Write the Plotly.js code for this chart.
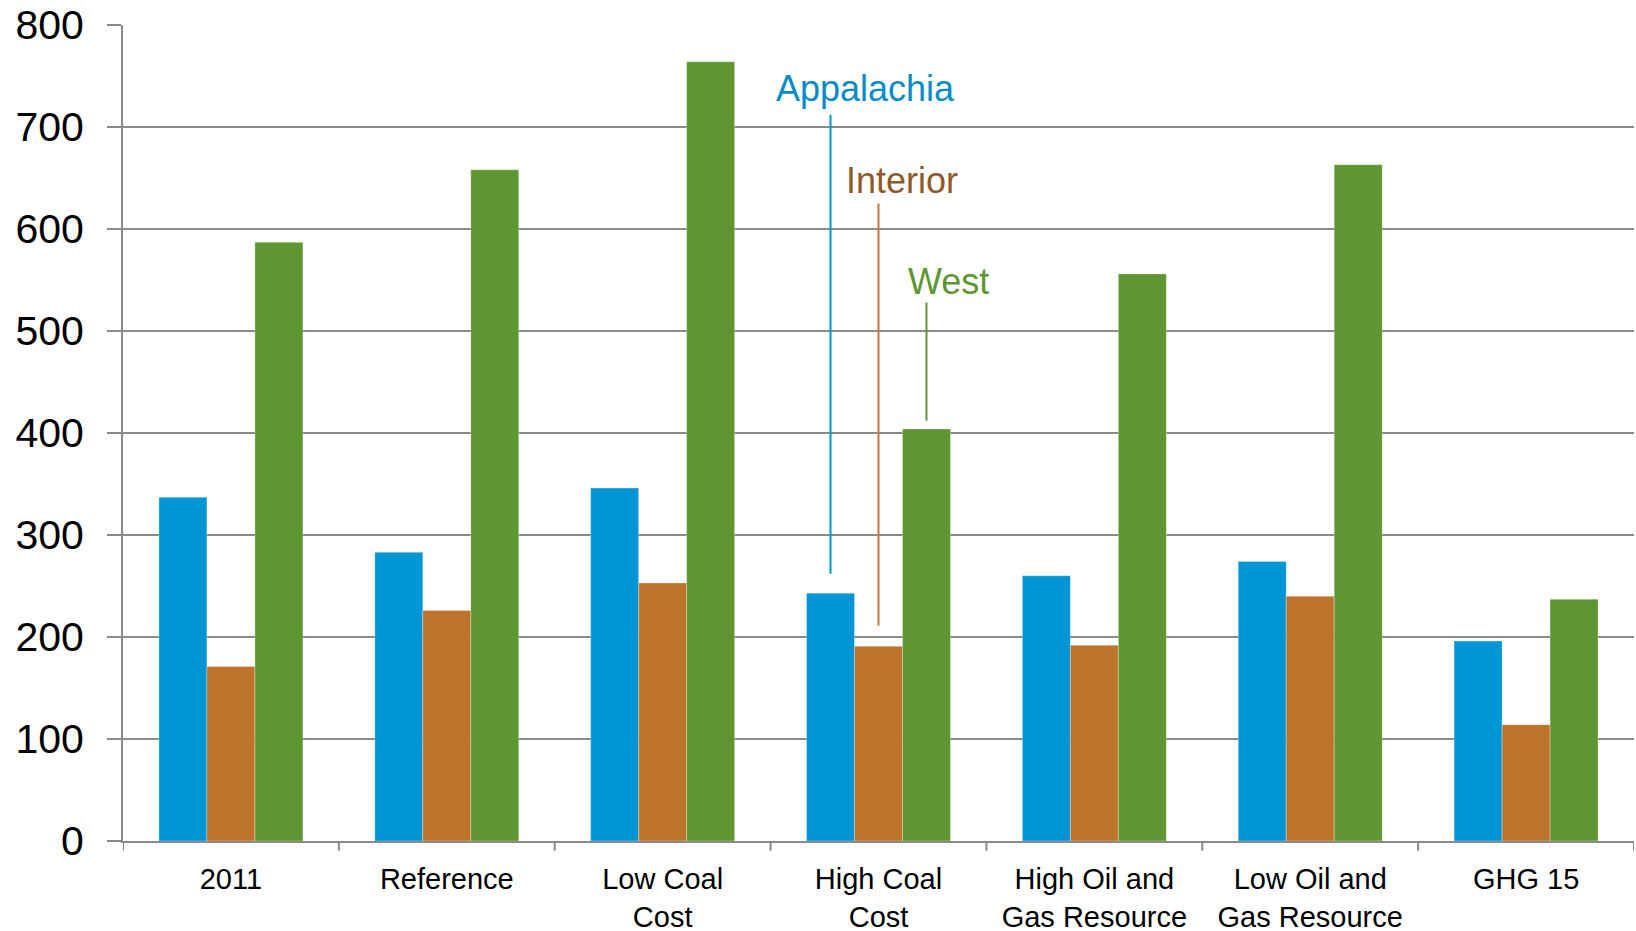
<!DOCTYPE html>
<html>
<head>
<meta charset="utf-8">
<script src="https://cdn.plot.ly/plotly-3.0.1.min.js"></script>
<style>html,body{margin:0;padding:0;background:#fff;}#chart{width:1636px;height:931px;}</style>
</head>
<body>
<div id="chart"></div>
<script>
const categories = ["2011", "Reference", "Low Coal<br>Cost", "High Coal<br>Cost", "High Oil and<br>Gas Resource", "Low Oil and<br>Gas Resource", "GHG 15"];
const appalachia = [337, 283, 346, 243, 260, 274, 196];
const interior = [171, 226, 253, 191, 192, 240, 114];
const west = [587, 658, 764, 404, 556, 663, 237];
const seriesNames = ["Appalachia", "Interior", "West"];
const seriesColors = ["#0096D6", "#BD732C", "#5E9732"];
const labelColors = ["#0A8BC9", "#8E5A2A", "#5E9732"];
const leaderColors = ["#0096D6", "#C47A38", "#5E9732"];
// callout labels for "High Coal Cost" group (index 3)
const calloutCategory = 3;
const labelOffsets = [-0.06, 0.107, 0.326];
const labelY = [738, 648, 549];
const leaderTop = [712, 625, 528];
const leaderBottom = [262, 211, 412];

const values = [appalachia, interior, west];
const bargap = 0.333;
const barW = (1 - bargap) / 3;

const traces = values.map((v, i) => ({
  type: "bar",
  name: seriesNames[i],
  x: categories.map((_, k) => k),
  y: v,
  marker: {color: seriesColors[i], line: {width: 0.6, color: "rgba(255,255,255,0.5)"}},
  hoverinfo: "y"
}));

const annotations = seriesNames.map((n, i) => ({
  x: calloutCategory + labelOffsets[i], y: labelY[i], xref: "x", yref: "y",
  text: n, showarrow: false, xanchor: "center", yanchor: "middle",
  font: {family: "Liberation Sans, Arial, sans-serif", size: 36, color: labelColors[i]}
}));

const shapes = seriesNames.map((n, i) => ({
  type: "line", xref: "x", yref: "y",
  x0: calloutCategory + (i - 1) * barW, x1: calloutCategory + (i - 1) * barW,
  y0: leaderBottom[i], y1: leaderTop[i],
  line: {color: leaderColors[i], width: 2}
}));

const layout = {
  width: 1636, height: 931,
  margin: {l: 123, r: 2, t: 25, b: 90},
  paper_bgcolor: "#fff", plot_bgcolor: "#fff",
  showlegend: false,
  barmode: "group", bargap: bargap, bargroupgap: 0,
  font: {family: "Liberation Sans, Arial, sans-serif", color: "#000"},
  xaxis: {
    type: "linear",
    range: [-0.5, categories.length - 0.5],
    tickmode: "array",
    tickvals: categories.map((_, k) => k),
    ticktext: categories,
    showgrid: false, zeroline: false,
    showline: true, linecolor: "#8a8a8a", linewidth: 2,
    ticks: "",
    tickfont: {size: 29, color: "#000"},
    ticklabelstandoff: 11
  },
  yaxis: {
    range: [0, 800], dtick: 100, tick0: 0,
    showgrid: true, gridcolor: "#8a8a8a", gridwidth: 2,
    zeroline: false,
    showline: true, linecolor: "#8a8a8a", linewidth: 2,
    ticks: "outside", ticklen: 14, tickcolor: "#8a8a8a", tickwidth: 2,
    tickfont: {size: 41, color: "#000"},
    ticklabelstandoff: 15
  },
  annotations: annotations,
  shapes: shapes.concat(
    // category boundary ticks on x axis
    Array.from({length: categories.length + 1}, (_, k) => ({
      type: "line", xref: "x", yref: "paper",
      x0: k - 0.5, x1: k - 0.5, y0: 0, y1: -0.012,
      line: {color: "#8a8a8a", width: 2}
    }))
  )
};

Plotly.newPlot("chart", traces, layout, {displayModeBar: false, staticPlot: true});
</script>
</body>
</html>
